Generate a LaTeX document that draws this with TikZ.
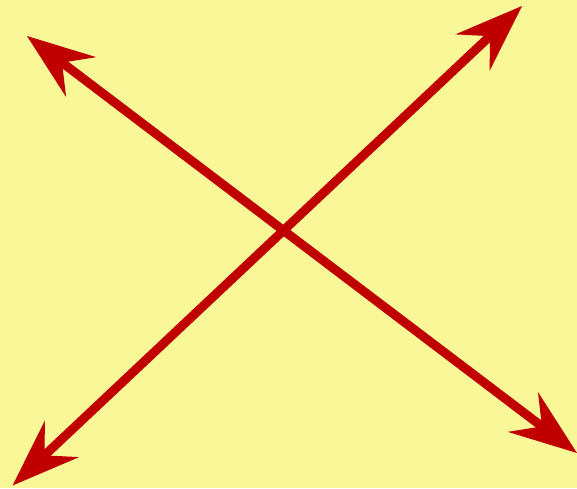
\documentclass[tikz,border=0pt]{standalone}
\usetikzlibrary{arrows.meta}
\definecolor{paper}{HTML}{F9F797}
\definecolor{crimson}{HTML}{C00000}

\begin{document}
\begin{tikzpicture}[x=1pt,y=-1pt,
head/.tip={Stealth[length=68pt,width=50pt,inset=24pt,line width=0pt]},
arr/.style={head-head,line width=9pt,draw=crimson,fill=crimson}]
\useasboundingbox (0,0) rectangle (577,488);
\fill[paper] (0,0) rectangle (577,488);
\coordinate (nw) at (27,36);
\coordinate (se) at (577,453);
\coordinate (sw) at (12.5,485.5);
\coordinate (ne) at (522,6);
\draw[arr] (nw) -- (se);
\draw[arr] (sw) -- (ne);
\end{tikzpicture}
\end{document}
